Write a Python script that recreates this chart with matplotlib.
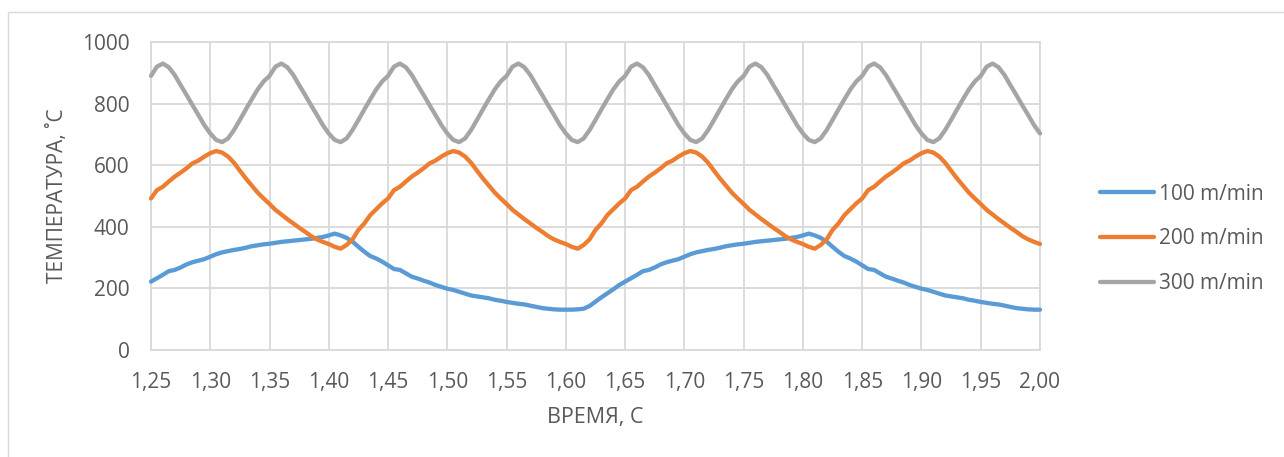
import numpy as np
import matplotlib
matplotlib.use("Agg")
import matplotlib.pyplot as plt
from matplotlib.ticker import FuncFormatter
from matplotlib.lines import Line2D
from matplotlib.patches import Rectangle

# Sample times, s (step 0.005 s)
time_s = np.linspace(1.25, 2.00, 151)

# Temperature, °C, for each cutting speed
temp_100 = [
    222, 233, 244, 256, 260, 268, 278, 285, 290, 295,
    303, 311, 317, 321, 325, 328, 332, 337, 340, 343,
    345, 348, 351, 353, 355, 357, 359, 361, 364, 367,
    372, 378, 372, 364, 352, 335, 319, 305, 297, 287,
    275, 263, 260, 249, 238, 232, 225, 219, 211, 205,
    199, 195, 189, 183, 177, 174, 171, 168, 163, 160,
    156, 153, 150, 148, 144, 140, 136, 134, 132, 131,
    131, 131, 132, 134, 143, 157, 171, 184, 197, 211,
    222, 233, 244, 256, 260, 268, 278, 285, 290, 295,
    303, 311, 317, 321, 325, 328, 332, 337, 340, 343,
    345, 348, 351, 353, 355, 357, 359, 361, 364, 367,
    372, 378, 372, 364, 352, 335, 319, 305, 297, 287,
    275, 263, 260, 249, 238, 232, 225, 219, 211, 205,
    199, 195, 189, 183, 177, 174, 171, 168, 163, 160,
    156, 153, 150, 148, 144, 140, 136, 134, 132, 131,
    131,
]

temp_200 = [
    492, 519, 530, 547, 563, 576, 590, 606, 615, 628,
    639, 646, 641, 628, 608, 582, 557, 534, 511, 492,
    474, 455, 440, 425, 411, 397, 384, 370, 359, 351,
    344, 335, 329, 341, 359, 390, 411, 438, 457, 476,
    492, 519, 530, 547, 563, 576, 590, 606, 615, 628,
    639, 646, 641, 628, 608, 582, 557, 534, 511, 492,
    474, 455, 440, 425, 411, 397, 384, 370, 359, 351,
    344, 335, 329, 341, 359, 390, 411, 438, 457, 476,
    492, 519, 530, 547, 563, 576, 590, 606, 615, 628,
    639, 646, 641, 628, 608, 582, 557, 534, 511, 492,
    474, 455, 440, 425, 411, 397, 384, 370, 359, 351,
    344, 335, 329, 341, 359, 390, 411, 438, 457, 476,
    492, 519, 530, 547, 563, 576, 590, 606, 615, 628,
    639, 646, 641, 628, 608, 582, 557, 534, 511, 492,
    474, 455, 440, 425, 411, 397, 384, 370, 359, 351,
    344,
]

temp_300 = [
    890, 920, 930, 918, 893, 860, 828, 795, 763, 730,
    703, 682, 675, 687, 714, 747, 781, 814, 846, 872,
    890, 920, 930, 918, 893, 860, 828, 795, 763, 730,
    703, 682, 675, 687, 714, 747, 781, 814, 846, 872,
    890, 920, 930, 918, 893, 860, 828, 795, 763, 730,
    703, 682, 675, 687, 714, 747, 781, 814, 846, 872,
    890, 920, 930, 918, 893, 860, 828, 795, 763, 730,
    703, 682, 675, 687, 714, 747, 781, 814, 846, 872,
    890, 920, 930, 918, 893, 860, 828, 795, 763, 730,
    703, 682, 675, 687, 714, 747, 781, 814, 846, 872,
    890, 920, 930, 918, 893, 860, 828, 795, 763, 730,
    703, 682, 675, 687, 714, 747, 781, 814, 846, 872,
    890, 920, 930, 918, 893, 860, 828, 795, 763, 730,
    703, 682, 675, 687, 714, 747, 781, 814, 846, 872,
    890, 920, 930, 918, 893, 860, 828, 795, 763, 730,
    703,
]

series_labels = ["100 m/min", "200 m/min", "300 m/min"]
series_colors = ["#5B9BD5", "#ED7D31", "#A5A5A5"]
x_ticks = np.linspace(1.25, 2.00, 16)
y_ticks = [0, 200, 400, 600, 800, 1000]

TEXT = "#595959"
GRID = "#D9D9D9"
plt.rcParams["font.family"] = ["Open Sans", "DejaVu Sans"]

W, H = 1284, 457
fig = plt.figure(figsize=(W / 100, H / 100), dpi=100)

# light outer frame of the chart area
fig.patches.append(Rectangle((8 / W, -0.1), 1.2, 1 - 12 / H + 0.1,
                             transform=fig.transFigure, fill=False,
                             edgecolor=GRID, linewidth=1.0))

ax = fig.add_axes([151 / W, 1 - 350 / H, (1040 - 151) / W, (350 - 42) / H])

for y, lab, col in zip([temp_100, temp_200, temp_300], series_labels, series_colors):
    ax.plot(time_s, y, color=col, lw=3.1, label=lab,
            solid_capstyle="round", solid_joinstyle="round", clip_on=False, zorder=3)

ax.set_xlim(1.25, 2.00)
ax.set_ylim(0, 1000)
ax.set_xticks(x_ticks)
ax.set_yticks(y_ticks)
ax.xaxis.set_major_formatter(FuncFormatter(lambda v, p: f"{v:.2f}".replace(".", ",")))
ax.grid(True, color=GRID, lw=1.3)
ax.set_axisbelow(True)
for s in ax.spines.values():
    s.set_color(GRID)
    s.set_linewidth(1.3)
ax.tick_params(length=0, labelsize=15, colors=TEXT, pad=15.5)

fig.text(58 / W, 1 - 196 / H, "ТЕМПЕРАТУРА, ˚С", rotation=90, ha="center", va="center",
         fontsize=15, color=TEXT)
fig.text(595.5 / W, 1 - 418 / H, "ВРЕМЯ, С", ha="center", va="center",
         fontsize=15.5, color=TEXT)

handles = [Line2D([], [], color=c, lw=3.1, solid_capstyle="round") for c in series_colors]
fig.legend(handles, series_labels, loc="center left",
           bbox_to_anchor=(1100 / W, 1 - 239 / H), frameon=False,
           fontsize=15, labelcolor=TEXT, handlelength=2.6, handletextpad=0.25,
           labelspacing=1.15, borderpad=0, borderaxespad=0)

fig.savefig("out.png", dpi=100)
